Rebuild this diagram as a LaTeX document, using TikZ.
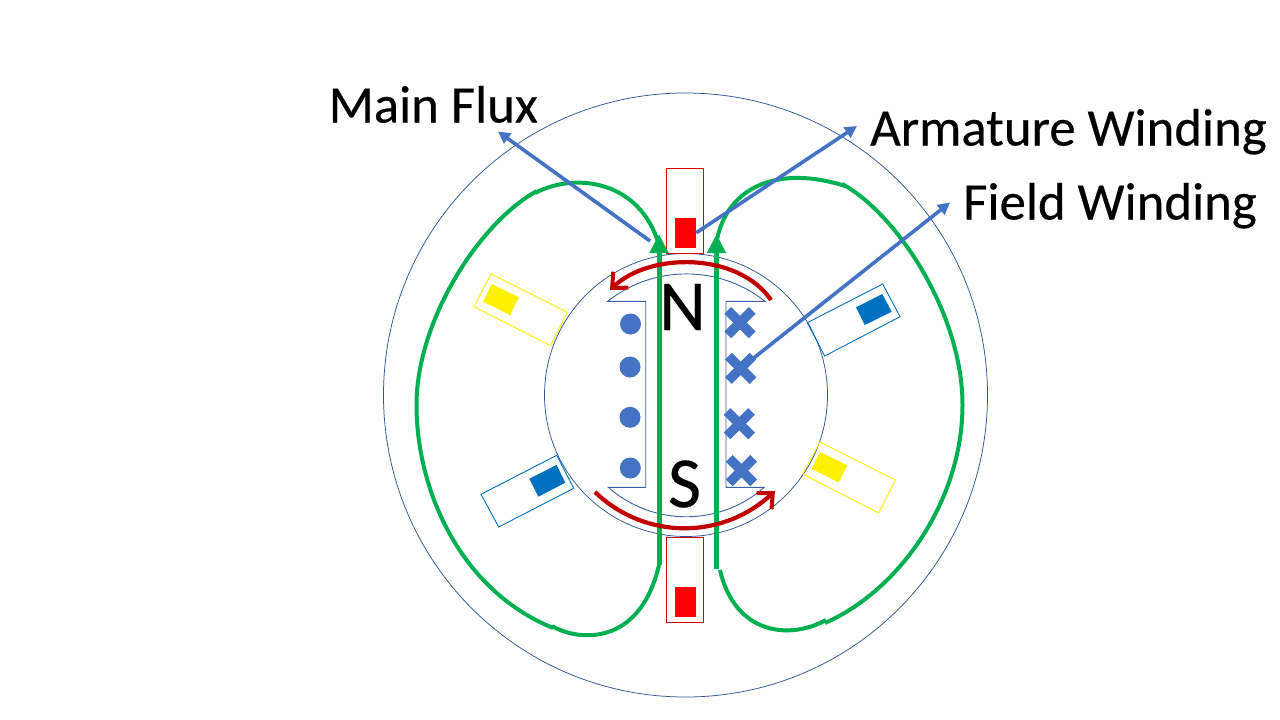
\documentclass[tikz,border=0pt]{standalone}
\usepackage{fontspec}
\setmainfont{Carlito}[FakeBold=0.35]
\usetikzlibrary{arrows.meta,shapes.misc}
\definecolor{ringblue}{HTML}{2F5597}
\definecolor{polblue}{HTML}{4472C4}
\definecolor{coilblue}{HTML}{0070C0}
\definecolor{fluxgreen}{HTML}{00B050}
\definecolor{darkred}{HTML}{C00000}
\tikzset{
  ring/.style={draw=ringblue,line width=0.75pt},
  poleline/.style={draw=polblue!85!black,line width=0.9pt},
  fluxline/.style={draw=fluxgreen,line width=4pt},
  fluxshaft/.style={draw=fluxgreen,line width=5pt,-{Triangle[length=19pt,width=18pt]}},
  pointer/.style={draw=polblue,line width=3.6pt,-{Triangle[length=12pt,width=12pt]}},
  swing/.style={draw=darkred,line width=4.2pt,-{Straight Barb[length=12pt,width=22pt,line width=4pt]}},
  dotmark/.style={circle,fill=polblue,minimum size=21pt,inner sep=0pt},
  crossmark/.style={cross out,draw=polblue,line width=9.5pt,minimum size=15pt,inner sep=0pt},
  slotred/.style={rectangle,draw=red!85!black,line width=0.9pt,minimum width=36.6pt,minimum height=85pt,inner sep=0pt},
  barred/.style={rectangle,fill=red,minimum width=21pt,minimum height=29.7pt,inner sep=0pt},
  label/.style={font=\fontsize{52.8}{52.8}\selectfont,text=black,inner sep=0pt,anchor=base west},
  polelabel/.style={font=\fontsize{72}{72}\selectfont,text=black,inner sep=0pt},
}
\begin{document}
\begin{tikzpicture}[x=1pt,y=-1pt]
\useasboundingbox (0,0) rectangle (1280,720);
% stator and rotor
\draw[ring] (685.5,395) circle[radius=302pt];
\draw[ring] (686,395) circle[radius=141.5pt];
% pole shoe outline
\draw[poleline] (607.7,301.3) .. controls (653.7,264.8) and (719,264.8) .. (765,301.3)
  -- (726,301.3) -- (726,487.3) -- (764.3,487.3)
  .. controls (719.7,526.6) and (652.9,526.6) .. (608.3,487.3)
  -- (645.7,487.3) -- (645.7,301.3) -- cycle;
% slots
\node[slotred] (slotT) at (685,210.8) {};
\node[slotred] (slotB) at (685,579.6) {};
\node[barred] (barT) at (685.5,232.8) {};
\node[barred] (barB) at (685.5,601.8) {};
\draw[yellow,line width=0.9pt] (491,274) -- (567.3,312.3) -- (550.7,345.7) -- (474,306.7) -- cycle;
\fill[yellow] (491.7,284) -- (519,297.3) -- (510,315) -- (483,301.7) -- cycle;
\draw[coilblue,line width=0.9pt] (556.7,455.3) -- (573.7,488.3) -- (498.7,527) -- (481,494.3) -- cycle;
\fill[coilblue] (556.7,465) -- (565.3,482.7) -- (538.3,496.7) -- (529.3,478.7) -- cycle;
\draw[coilblue,line width=0.9pt] (882.7,284) -- (900,316.7) -- (824.7,356) -- (807.3,322.7) -- cycle;
\fill[coilblue] (882.3,294) -- (891.7,311.7) -- (864.7,325) -- (856,307.3) -- cycle;
\draw[yellow,line width=0.9pt] (820,442) -- (895.3,480) -- (878.7,513) -- (802.7,474) -- cycle;
\fill[yellow] (820,451.7) -- (847.3,465.3) -- (838.7,482.7) -- (811.7,468.7) -- cycle;
% field conductors
\node[dotmark] (d1) at (630.5,324) {};
\node[dotmark] (d2) at (630,367) {};
\node[dotmark] (d3) at (630,417.3) {};
\node[dotmark] (d4) at (630.3,468) {};
\node[crossmark] (c1) at (740,322.7) {};
\node[crossmark] (c2) at (740.7,368.3) {};
\node[crossmark] (c3) at (739.3,423.7) {};
\node[crossmark] (c4) at (741.5,470.7) {};
% pole letters
\node[polelabel] (N) at (682.5,307) {N};
\node[polelabel] (S) at (684.5,484) {S};
% flux
\coordinate (lowL) at (659,565);
\coordinate (tipL) at (659,234);
\coordinate (lowR) at (716.5,569);
\coordinate (tipR) at (716.5,234);
\draw[fluxshaft] (lowL) -- (tipL);
\draw[fluxshaft] (lowR) -- (tipR);
\draw[fluxline] (659,245) .. controls (640,180) and (575,172) .. (535,193);
\draw[fluxline] (537,191) .. controls (480,222) and (416.5,320) .. (416.5,405)
  .. controls (416.5,490) and (460,590) .. (553,628);
\draw[fluxline] (552,626) .. controls (575,640) and (640,650) .. (659.5,563);
\draw[fluxline] (716,245) .. controls (725,185) and (780,165) .. (845,186);
\draw[fluxline] (842,184) .. controls (895,212) and (962.5,312) .. (962.5,405)
  .. controls (962.5,500) and (900,590) .. (825,623);
\draw[fluxline] (826,620) .. controls (790,640) and (735,635) .. (720,570);
% commutation arcs
\draw[swing] (771,300) .. controls (738,252) and (650,252) .. (610,290);
\draw[swing] (595,492) .. controls (645,540) and (722,540) .. (775,491);
% labels
\node[label] (lblFlux) at (328.5,122.5) {Main Flux};
\node[label] (lblArm) at (870,145.5) {Armature Winding};
\node[label] (lblField) at (963,219.5) {Field Winding};
% pointers
\coordinate (fluxStart) at (650,241);
\coordinate (fluxEnd) at (498,131.5);
\coordinate (armEnd) at (857,126);
\coordinate (fieldEnd) at (950,202.5);
\draw[pointer] (fluxStart) -- (fluxEnd);
\draw[pointer] (barT.east) -- (armEnd);
\draw[pointer] (c2.center) -- (fieldEnd);
\end{tikzpicture}
\end{document}
